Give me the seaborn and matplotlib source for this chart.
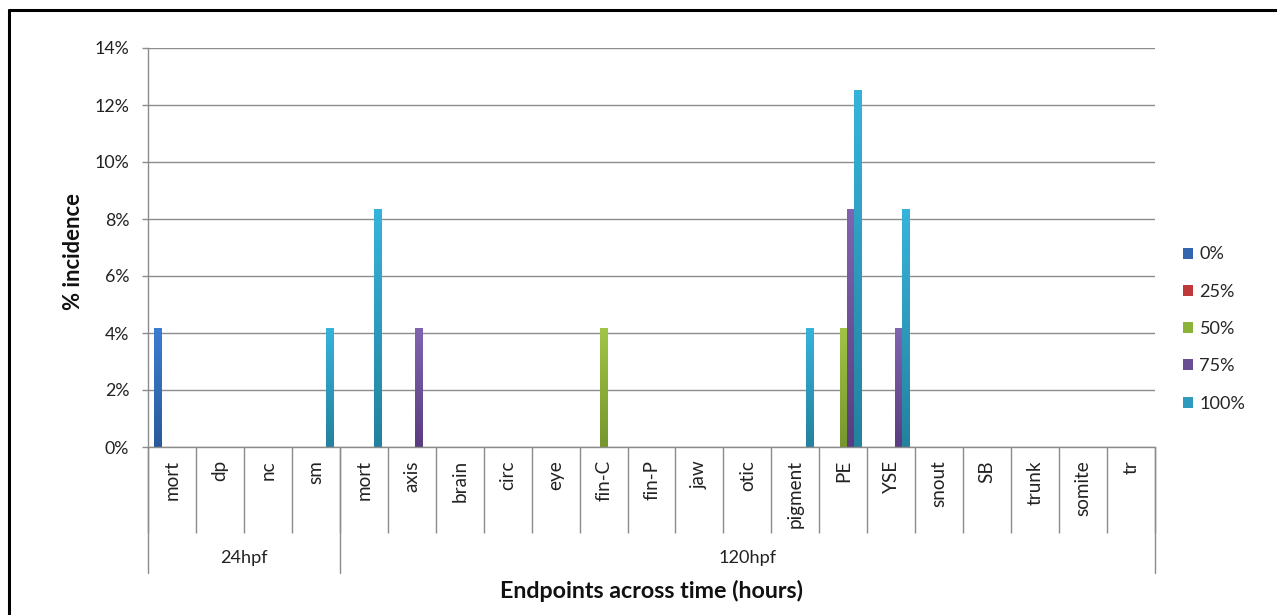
import matplotlib
matplotlib.use("Agg")
import matplotlib.pyplot as plt
import numpy as np
import pandas as pd
import seaborn as sns
from matplotlib.lines import Line2D
from matplotlib.patches import Patch
from matplotlib.colors import to_rgb
from matplotlib.transforms import blended_transform_factory

# ---------------- data ----------------
groups = ["24hpf", "120hpf"]
cats_24 = ["mort", "dp", "nc", "sm"]
cats_120 = ["mort", "axis", "brain", "circ", "eye", "fin-C", "fin-P", "jaw",
            "otic", "pigment", "PE", "YSE", "snout", "SB", "trunk", "somite", "tr"]
series = ["0%", "25%", "50%", "75%", "100%"]

s_0 = [4.17, 0, 0, 0, 0, 0, 0, 0, 0, 0, 0, 0, 0, 0, 0, 0, 0, 0, 0, 0, 0]
s_25 = [0, 0, 0, 0, 0, 0, 0, 0, 0, 0, 0, 0, 0, 0, 0, 0, 0, 0, 0, 0, 0]
s_50 = [0, 0, 0, 0, 0, 0, 0, 0, 0, 4.17, 0, 0, 0, 0, 4.17, 0, 0, 0, 0, 0, 0]
s_75 = [0, 0, 0, 0, 0, 4.17, 0, 0, 0, 0, 0, 0, 0, 0, 8.33, 4.17, 0, 0, 0, 0, 0]
s_100 = [0, 0, 0, 4.17, 8.33, 0, 0, 0, 0, 0, 0, 0, 0, 4.17, 12.5, 8.33, 0, 0, 0, 0, 0]

colors = ["#3366AE", "#C0393A", "#8CB23A", "#6A4E94", "#2E9BBE"]
top_colors = ["#3C7DD0", "#D04545", "#A0C545", "#8064B0", "#36B3DA"]
bottom_colors = ["#2A5A9B", "#A02E2D", "#76962E", "#5A3D80", "#23829E"]

# build long table
labels = cats_24 + cats_120
grp_of = [groups[0]] * len(cats_24) + [groups[1]] * len(cats_120)
keys = [f"{g}|{c}" for g, c in zip(grp_of, labels)]
rows = []
for name, vals in zip(series, [s_0, s_25, s_50, s_75, s_100]):
    for k, v in zip(keys, vals):
        rows.append({"key": k, "series": name, "value": v})
df = pd.DataFrame(rows)

# ---------------- figure ----------------
sns.set_theme(style="white")
plt.rcParams["font.family"] = ["Lato", "DejaVu Sans"]

W, H = 1277, 615
fig = plt.figure(figsize=(W / 100, H / 100), dpi=100)
renderer = fig.canvas.get_renderer()


def fit_size(text, target_px, weight="normal"):
    """font size (pt) so that `text` is about target_px wide"""
    t = fig.text(0, 0, text, fontsize=10, fontweight=weight)
    w = t.get_window_extent(renderer).width
    t.remove()
    return 10 * target_px / w


fs_cat = fit_size("pigment", 68)
fs_ytk = fit_size("14%", 35)
fs_grp = fit_size("24hpf", 48)
fs_xt = fit_size("Endpoints across time (hours)", 305, "bold")
fs_yt = fit_size("% incidence", 117, "bold")
fs_leg = fit_size("100%", 46)

L, R, T, B = 148, 1155, 48, 447
ax = fig.add_axes([L / W, 1 - B / H, (R - L) / W, (B - T) / H])

sns.barplot(data=df, x="key", y="value", hue="series", order=keys,
            hue_order=series, palette=colors, width=0.73, saturation=1,
            dodge=True, errorbar=None, legend=False, ax=ax, linewidth=0)

# vertical gradient fill on each bar (Excel 2007 look)
pal_rgb = [np.array(to_rgb(c)) for c in colors]
for p in list(ax.patches):
    h = p.get_height()
    if h <= 0:
        continue
    fc = np.array(p.get_facecolor()[:3])
    idx = int(np.argmin([np.sum((fc - c) ** 2) for c in pal_rgb]))
    t = np.linspace(0, 1, 64)[:, None]
    top = np.array(to_rgb(top_colors[idx]))
    bot = np.array(to_rgb(bottom_colors[idx]))
    grad = (bot[None, :] * (1 - t) + top[None, :] * t)[:, None, :]
    x0 = p.get_x()
    ax.imshow(grad, extent=[x0, x0 + p.get_width(), 0, h], origin="lower",
              aspect="auto", interpolation="bilinear", zorder=p.get_zorder())
    p.set_visible(False)

grid_c = "#8C8C8C"
txt_c = "#222222"
ax.set_ylim(0, 14)
ax.set_xlim(-0.5, len(keys) - 0.5)
ax.set_yticks(np.arange(0, 15, 2))
ax.set_yticklabels([f"{v}%" for v in range(0, 15, 2)], fontsize=fs_ytk, color=txt_c)
ax.yaxis.grid(True, color=grid_c, linewidth=1)
ax.set_axisbelow(True)
ax.tick_params(axis="y", length=4.5, width=1, color=grid_c, pad=9, left=True)

ax.set_xticks(range(len(keys)))
ax.set_xticklabels(labels, rotation=90, fontsize=fs_cat, color=txt_c)
ax.tick_params(axis="x", which="major", length=0, pad=9.5)
ax.set_xticks(np.arange(-0.5, len(keys), 1.0), minor=True)
ax.tick_params(axis="x", which="minor", length=62, width=1, color=grid_c,
               direction="out", bottom=True)

for s in ["top", "right"]:
    ax.spines[s].set_visible(False)
for s in ["left", "bottom"]:
    ax.spines[s].set_color(grid_c)
    ax.spines[s].set_linewidth(1)

ax.set_xlabel("")
ax.set_ylabel("")

# group separators and labels
trans = blended_transform_factory(ax.transData, ax.transAxes)
axh = B - T
for xb in [-0.5, len(cats_24) - 0.5, len(keys) - 0.5]:
    ax.add_line(Line2D([xb, xb], [0, -(573 - B) / axh], transform=trans,
                       color=grid_c, linewidth=1, clip_on=False))
ax.text((len(cats_24) - 1) / 2, -(558 - B) / axh, groups[0], transform=trans,
        ha="center", va="center", fontsize=fs_grp, color=txt_c)
ax.text(len(cats_24) + (len(cats_120) - 1) / 2, -(558 - B) / axh, groups[1],
        transform=trans, ha="center", va="center", fontsize=fs_grp, color=txt_c)

# axis titles
fig.text((L + R) / 2 / W, 1 - 591 / H, "Endpoints across time (hours)",
         ha="center", va="center", fontsize=fs_xt, fontweight="bold", color="#111111")
fig.text(73 / W, 1 - 251 / H, "% incidence", rotation=90,
         ha="center", va="center", fontsize=fs_yt, fontweight="bold", color="#111111")

# legend
fpx = fs_leg * 100 / 72
handles = [Patch(facecolor=c, edgecolor="none") for c in colors]
ax.legend(handles, series, loc="center left", bbox_to_anchor=(1183 / W, 1 - 329 / H),
          bbox_transform=fig.transFigure, frameon=False, fontsize=fs_leg,
          handlelength=0.55, handleheight=0.55, handletextpad=0.35,
          labelspacing=max(0.2, (43.0 - 1.2 * fpx) / fpx), borderaxespad=0, borderpad=0)

# outer frame (top and left edges visible)
fig.add_artist(Line2D([8.5 / W, 1], [1 - 10 / H, 1 - 10 / H], transform=fig.transFigure,
                      color="black", linewidth=2.2))
fig.add_artist(Line2D([9 / W, 9 / W], [0, 1 - 10 / H], transform=fig.transFigure,
                      color="black", linewidth=2.2))

fig.savefig("out.png", dpi=100, facecolor="white")
